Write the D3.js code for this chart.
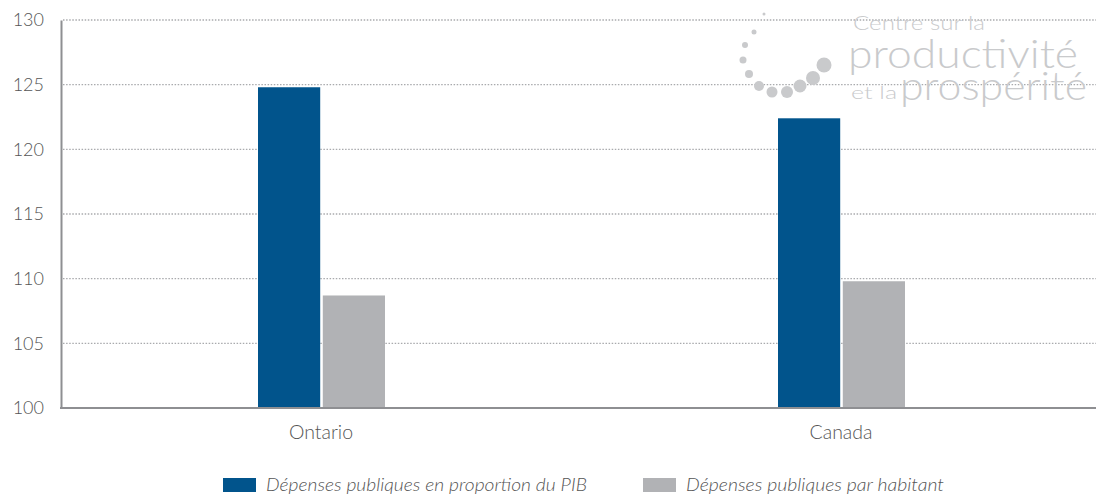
<!DOCTYPE html>
<html><head><meta charset="utf-8">
<script src="https://cdn.jsdelivr.net/npm/d3@7"></script>
<style>body{margin:0;background:#fff}svg{display:block}</style>
</head><body><svg id="c" width="1100" height="496" font-family="Lato, sans-serif"></svg>
<script>
const categories = ["Ontario", "Canada"];
const seriesNames = ["Dépenses publiques en proportion du PIB", "Dépenses publiques par habitant"];
const seriesPIB = [124.8, 122.4];
const seriesHab = [108.7, 109.8];
const yTicks = [100, 105, 110, 115, 120, 125, 130];
const colors = ["#01548c", "#b1b2b5"];

const svg = d3.select("#c");
const m = {l: 61, r: 1096, t: 20, b: 408};
const x = d3.scaleBand().domain(categories).range([m.l, m.l + 1040]);
const x1 = d3.scaleBand().domain([0, 1]).range([-63, 64]).paddingInner(0.04);
const y = d3.scaleLinear().domain([100, 130]).range([m.b, m.t]);

// grid
svg.append("g").selectAll("line").data(yTicks.filter(d => d > 100)).join("line")
  .attr("x1", m.l + 2).attr("x2", m.r).attr("y1", d => y(d)).attr("y2", d => y(d))
  .attr("stroke", "#a9aaad").attr("stroke-width", 1.3).attr("stroke-dasharray", "1.5,1.6");

// logo (decorative)
const logo = svg.append("g").attr("fill", "#c9cacc").attr("font-family", "Lato, sans-serif").attr("font-weight", 300);
[[764,14,1.5],[754,32,2.5],[745,45,3],[743,60,3.5],[749,74,4],[759,86,5],[772,92,5.5],[787,92,6],[800,86,6.5],[813,78,7],[824,65,7.5]].forEach(c=>{
  logo.append("circle").attr("cx", c[0]).attr("cy", c[1]).attr("r", c[2]);
});
logo.append("text").attr("x", 853).attr("y", 30).attr("font-size", 20).attr("textLength", 132).attr("lengthAdjust", "spacingAndGlyphs").text("Centre sur la");
logo.append("text").attr("x", 848).attr("y", 68).attr("font-size", 39).attr("textLength", 230).attr("lengthAdjust", "spacingAndGlyphs").text("productivité");
logo.append("text").attr("x", 851).attr("y", 99).attr("font-size", 18).attr("textLength", 46).attr("lengthAdjust", "spacingAndGlyphs").text("et la");
logo.append("text").attr("x", 900).attr("y", 100).attr("font-size", 39).attr("textLength", 187).attr("lengthAdjust", "spacingAndGlyphs").text("prospérité");

// bars
const data = categories.map((c, i) => ({c, v: [seriesPIB[i], seriesHab[i]]}));
svg.append("g").selectAll("g").data(data).join("g")
  .attr("transform", d => `translate(${x(d.c) + x.bandwidth() / 2},0)`)
  .selectAll("rect").data(d => d.v.map((v, j) => ({v, j}))).join("rect")
  .attr("x", d => x1(d.j)).attr("width", x1.bandwidth())
  .attr("y", d => y(d.v)).attr("height", d => y(100) - y(d.v))
  .attr("fill", d => colors[d.j]);

// axes
const ya = svg.append("g").attr("transform", `translate(${m.l},0)`)
  .call(d3.axisLeft(y).tickValues(yTicks).tickSize(0).tickPadding(17));
ya.select(".domain").attr("stroke", "#8e8f92").attr("stroke-width", 2);
ya.selectAll("text").attr("font-size", 18).attr("fill", "#555").attr("font-family", "Lato, sans-serif").attr("font-weight", 300);
const xa = svg.append("g").attr("transform", `translate(0,${m.b})`)
  .call(d3.axisBottom(x).tickSize(0).tickPadding(17));
xa.select(".domain").remove();
xa.selectAll("text").attr("font-size", 19.5).attr("fill", "#555").attr("font-family", "Lato, sans-serif").attr("font-weight", 300);
svg.append("line").attr("x1", m.l - 1).attr("x2", m.r).attr("y1", m.b).attr("y2", m.b)
  .attr("stroke", "#8e8f92").attr("stroke-width", 2);

// legend
const lg = svg.append("g");
const lx = [223, 643];
const lw = [321, 258];
seriesNames.forEach((n, i) => {
  lg.append("rect").attr("x", lx[i]).attr("y", 478).attr("width", 33).attr("height", 14).attr("fill", colors[i]);
  lg.append("text").attr("x", lx[i] + 43).attr("y", 491).attr("font-size", 18.5).attr("font-style", "italic")
    .attr("textLength", lw[i]).attr("lengthAdjust", "spacingAndGlyphs")
    .attr("font-family", "Lato, sans-serif").attr("font-weight", 300).attr("fill", "#555").text(n);
});
</script></body></html>
